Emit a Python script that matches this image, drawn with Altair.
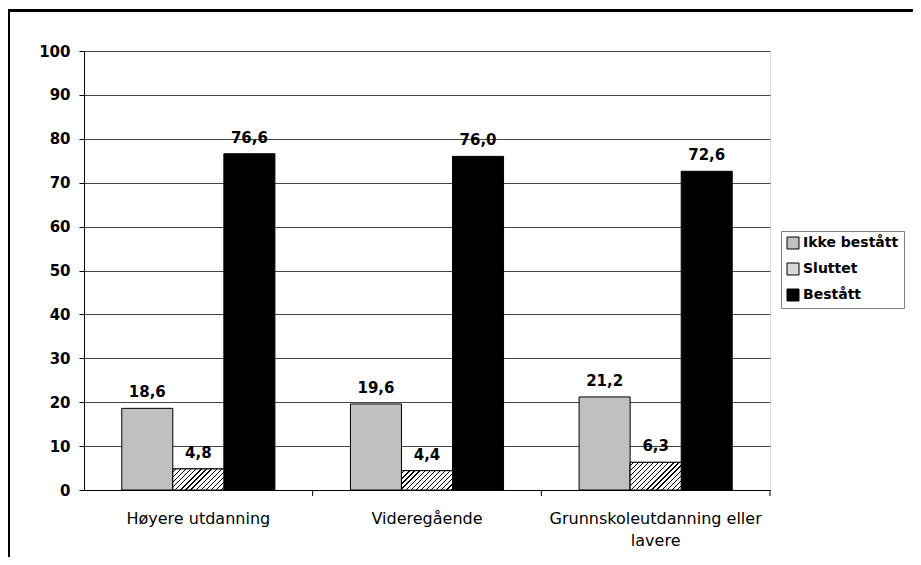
import altair as alt
import pandas as pd

categories = ["Høyere utdanning", "Videregående", "Grunnskoleutdanning eller lavere"]
series = ["Ikke bestått", "Sluttet", "Bestått"]
ikke_bestatt = [18.6, 19.6, 21.2]
sluttet = [4.8, 4.4, 6.3]
bestatt = [76.6, 76.0, 72.6]
y_ticks = [0, 10, 20, 30, 40, 50, 60, 70, 80, 90, 100]
colors = ["#c0c0c0", "#d8d8d8", "#000000"]

rows = []
for i, c in enumerate(categories):
    for s, vals in zip(series, [ikke_bestatt, sluttet, bestatt]):
        rows.append({"kategori": c, "serie": s, "verdi": vals[i],
                     "etikett": f"{vals[i]:.1f}".replace(".", ",")})
df = pd.DataFrame(rows)

W, H = 686, 439
PAD_OUT = 0.74
BAR_W = (W / 3) / (3 + 2 * PAD_OUT)


def hatch(value, period=3.6, lw=0.9):
    h = value * H / 100.0
    w = BAR_W
    L = w + h
    lam = L / (w * w + h * h)
    step = period * 1.414 / L
    d = lw * 1.414 / L
    stops = [{"offset": 0, "color": "#ffffff"}]
    t = step * 0.5
    while t < 1:
        t2 = min(t + d, 1)
        stops += [{"offset": t, "color": "#ffffff"}, {"offset": t, "color": "#000000"},
                  {"offset": t2, "color": "#000000"}, {"offset": t2, "color": "#ffffff"}]
        t += step
    stops.append({"offset": 1, "color": "#ffffff"})
    return {"gradient": "linear", "x1": 0, "y1": 0, "x2": lam * w, "y2": lam * h, "stops": stops}


x_enc = alt.X("kategori:N", sort=categories,
              scale=alt.Scale(domain=categories, paddingInner=0, paddingOuter=0),
              axis=alt.Axis(title=None, ticks=False, labelAngle=0, labelFont="DejaVu Sans",
                            labelFontSize=16, labelColor="black", labelPadding=20,
                            labelLineHeight=22, labelLimit=400, domainColor="black", domainWidth=1,
                            labelExpr="datum.value == 'Grunnskoleutdanning eller lavere' ? ['Grunnskoleutdanning eller', 'lavere'] : datum.value"))
xo_enc = alt.XOffset("serie:N", sort=series,
                     scale=alt.Scale(domain=series, paddingInner=0, paddingOuter=PAD_OUT))
y_enc = alt.Y("verdi:Q", scale=alt.Scale(domain=[0, 100], nice=False),
              axis=alt.Axis(title=None, values=y_ticks, grid=True, gridColor="#444444",
                            gridWidth=1, tickColor="black", tickSize=5, domainColor="black",
                            labelFont="DejaVu Sans", labelFontWeight="bold", labelFontSize=15,
                            labelColor="black", labelPadding=9))

base = alt.Chart(df)

frame = alt.Chart(alt.Data(values=[{"a": 1}])).mark_rect(
    filled=False, stroke="black", strokeWidth=3).encode(
    x=alt.value(-75.5), x2=alt.value(900), y=alt.value(-40.5), y2=alt.value(700))

bars = base.mark_bar(stroke="black", strokeWidth=1).encode(
    x=x_enc, xOffset=xo_enc, y=y_enc,
    fill=alt.Fill("serie:N", sort=series,
                  scale=alt.Scale(domain=series, range=colors),
                  legend=alt.Legend(title=None, orient="none", legendX=697, legendY=180,
                                    strokeColor="#808080", fillColor="white", padding=5,
                                    symbolType="square", symbolSize=144,
                                    symbolStrokeColor="black", symbolStrokeWidth=1,
                                    labelFont="DejaVu Sans", labelFontWeight="bold",
                                    labelFontSize=14, labelColor="black", rowPadding=10,
                                    labelOffset=3)))

hatch_layers = []
for c, v in zip(categories, sluttet):
    hatch_layers.append(
        base.transform_filter(
            (alt.datum.serie == "Sluttet") & (alt.datum.kategori == c)
        ).mark_bar(stroke="black", strokeWidth=1).encode(
            x=alt.X("kategori:N", sort=categories), xOffset=alt.XOffset("serie:N", sort=series),
            y="verdi:Q", fill=alt.value(hatch(v))))

labels = base.mark_text(font="DejaVu Sans", fontWeight="bold", fontSize=15, color="black",
                        baseline="alphabetic", dy=-11).encode(
    x=alt.X("kategori:N", sort=categories), xOffset=alt.XOffset("serie:N", sort=series),
    y="verdi:Q", text="etikett:N")

sep_ticks = alt.Chart(pd.DataFrame({"kategori": categories})).mark_rule(
    color="black", strokeWidth=1).encode(
    x=alt.X("kategori:N", sort=categories, bandPosition=1),
    y=alt.value(H), y2=alt.value(H + 6))

chart = alt.layer(frame, bars, *hatch_layers, labels, sep_ticks).properties(
    width=W, height=H,
    autosize=alt.AutoSizeParams(type="none"),
    padding={"left": 76, "top": 43, "right": 143, "bottom": 67},
).configure_view(stroke="#c0c0c0", strokeWidth=2).configure(background="white")

chart.save("out.html", embed_options={"renderer": "svg", "actions": False})
